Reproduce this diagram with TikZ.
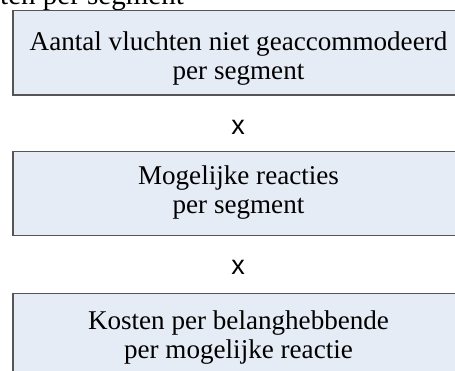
\documentclass[tikz,border=0pt]{standalone}
\usepackage{fontspec}
\setmainfont{Liberation Serif}
\newfontfamily\xsans{Liberation Sans}
\definecolor{boxfill}{HTML}{E6ECF6}
\definecolor{boxline}{HTML}{555555}
\begin{document}
\begin{tikzpicture}[x=1pt,y=1pt,
  factorbox/.style={draw=boxline, line width=1.4pt, fill=boxfill, rectangle,
    minimum width=451pt, minimum height=84.5pt, inner sep=0pt},
  boxtext/.style={align=center, font=\fontsize{27.1}{29.5}\selectfont, inner sep=0pt},
  timessign/.style={font=\xsans\fontsize{27}{29}\selectfont, inner sep=0pt}]
\useasboundingbox (0,0) rectangle (455,370);
\node[anchor=base east, font=\fontsize{29}{31}\selectfont, inner sep=0pt] (title) at (184,365) {Kosten per segment};
\node[factorbox] (b1) at (238.5,317.2) {};
\node[boxtext, yshift=-5.5pt] (t1) at (b1.center) {Aantal vluchten niet geaccommodeerd\\per segment};
\node[timessign] (x1) at (238,243) {x};
\node[factorbox] (b2) at (238.5,176.5) {};
\node[boxtext, yshift=1pt] (t2) at (b2.center) {Mogelijke reacties\\per segment};
\node[timessign] (x2) at (238,103) {x};
\node[factorbox] (b3) at (238.5,34.5) {};
\node[boxtext, yshift=-2pt] (t3) at (b3.center) {Kosten per belanghebbende\\per mogelijke reactie};
\end{tikzpicture}
\end{document}
